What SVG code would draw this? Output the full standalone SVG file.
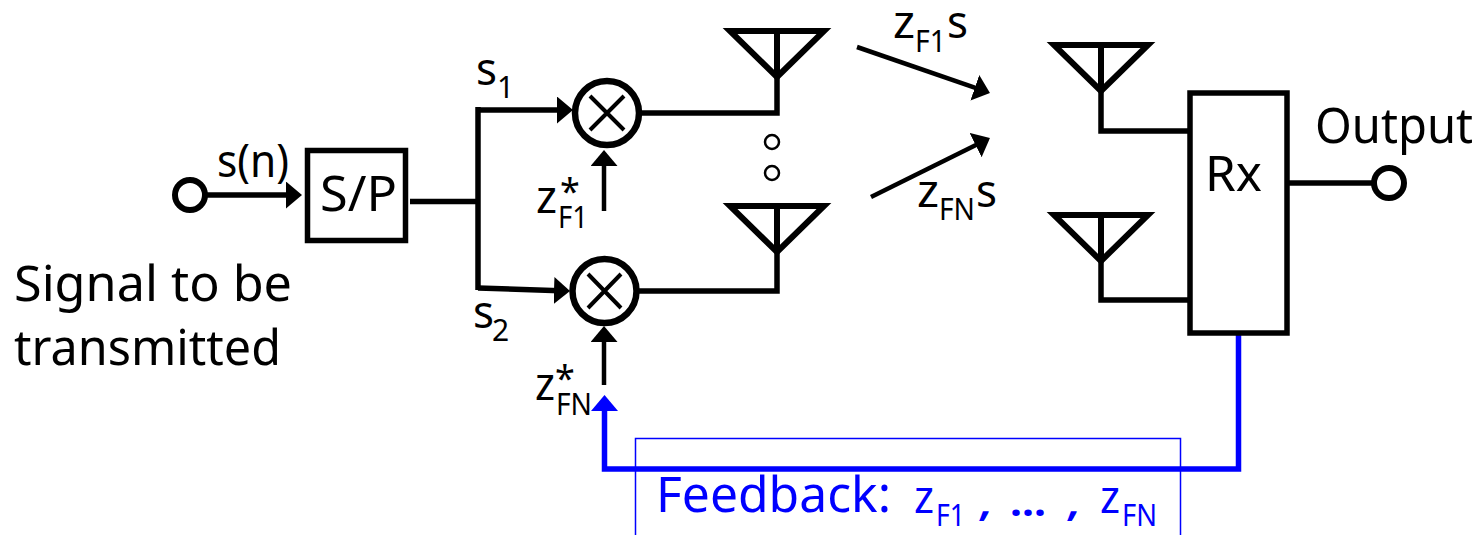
<svg xmlns="http://www.w3.org/2000/svg" width="1480" height="535" viewBox="0 0 1480 535">
<style>
text{font-family:"Noto Sans","Open Sans","DejaVu Sans",sans-serif;fill:#000}
.l{font-size:50px}.s{font-size:46px}.u{font-size:30px}.a{font-size:36px}.b{fill:#00f}
.k{fill:none;stroke:#000;stroke-width:5.500}
.t{fill:none;stroke:#000;stroke-width:6}
.w{fill:#fff;stroke:#000;stroke-width:6.500}
.c{fill:none;stroke:#000;stroke-width:5.500;marker-end:url(#a)}
.n{fill:none;stroke:#000;stroke-width:4.500;marker-end:url(#a)}
.f{fill:none;stroke:#00f;stroke-width:5.500}
</style>
<defs>
<marker id="a" markerUnits="userSpaceOnUse" markerWidth="20" markerHeight="28" refX="6" refY="13.500" orient="auto"><path d="M0 0L16 13.500L0 27Z" fill="#000"/></marker>
<g id="ant"><path class="t" d="M-47 0H47L0 46ZM0 0V46"/></g>
</defs>
<g id="connectors">
<path class="c" d="M204 195H292"/>
<path class="k" d="M410 201.500H478"/>
<path class="c" d="M478 110H563"/>
<path class="k" d="M478 107V290"/>
<path class="c" d="M478 288L560 290.700"/>
<path class="n" d="M604 211V160"/>
<path class="n" d="M604 385V336"/>
<path class="k" d="M640 113H777V77"/>
<path class="k" d="M638 291H777V252"/>
<path class="k" d="M1101 92V131H1188"/>
<path class="k" d="M1101 262V300H1188"/>
<path class="k" d="M1289 183H1375"/>
<path class="n" d="M857 47L980.500 89.700"/>
<path class="n" d="M871 197L981 142.400"/>
<path class="f" d="M1238.500 334V469H604.500V408"/>
<path d="M604.500 395L591 411H618Z" fill="#00f"/>
</g>
<g id="input"><circle cx="190" cy="195" r="15" fill="#fff" stroke="#000" stroke-width="6"/></g>
<g id="sp"><rect x="307.500" y="150.500" width="98" height="90" class="k"/><text class="l" x="320" y="211" textLength="77" lengthAdjust="spacingAndGlyphs">S/P</text></g>
<g id="mix1"><circle cx="607" cy="113" r="32" class="w"/><path class="k" style="stroke-width:4" d="M590 96L624 130M624 96L590 130"/></g>
<g id="mix2"><circle cx="604.500" cy="291" r="32" class="w"/><path class="k" style="stroke-width:4" d="M588 274L621 308M621 274L588 308"/></g>
<g id="tx1"><use href="#ant" x="777" y="31"/></g>
<g id="tx2"><use href="#ant" x="777" y="206"/></g>
<g id="rx1"><use href="#ant" x="1101" y="45"/></g>
<g id="rx2"><use href="#ant" x="1101" y="215"/></g>
<g id="dots"><circle cx="772" cy="142" r="7" fill="#fff" stroke="#000" stroke-width="2.500"/><circle cx="772" cy="173" r="7" fill="#fff" stroke="#000" stroke-width="2.500"/></g>
<g id="rx"><rect x="1190" y="93" width="97" height="240" fill="#fff" stroke="#000" stroke-width="5.500"/><text class="l" x="1205" y="191" textLength="57" lengthAdjust="spacingAndGlyphs">Rx</text></g>
<g id="output"><circle cx="1389" cy="183" r="15" fill="#fff" stroke="#000" stroke-width="6"/><text class="l" x="1315" y="143" textLength="158" lengthAdjust="spacingAndGlyphs">Output</text></g>
<g id="labels">
<text class="s" x="217" y="177" textLength="72" lengthAdjust="spacingAndGlyphs">s(n)</text>
<text class="l" x="14" y="301" textLength="278" lengthAdjust="spacingAndGlyphs">Signal to be</text>
<text class="l" x="14" y="365" textLength="267" lengthAdjust="spacingAndGlyphs">transmitted</text>
<text class="s" x="476" y="85" textLength="21" lengthAdjust="spacingAndGlyphs">s</text><text class="u" x="497" y="98">1</text>
<text class="s" x="473" y="328" textLength="21" lengthAdjust="spacingAndGlyphs">s</text><text class="u" x="492" y="341">2</text>
<text class="s" x="536" y="213" textLength="21" lengthAdjust="spacingAndGlyphs">z</text><text class="u" x="558" y="228" textLength="30" lengthAdjust="spacingAndGlyphs">F1</text><text class="a" x="560" y="204">*</text>
<text class="s" x="535" y="400" textLength="20" lengthAdjust="spacingAndGlyphs">z</text><text class="u" x="556" y="415" textLength="36" lengthAdjust="spacingAndGlyphs">FN</text><text class="a" x="555" y="391">*</text>
<text class="s" x="893" y="38" textLength="22" lengthAdjust="spacingAndGlyphs">z</text><text class="u" x="915" y="52" textLength="31" lengthAdjust="spacingAndGlyphs">F1</text><text class="s" x="947" y="38" textLength="21" lengthAdjust="spacingAndGlyphs">s</text>
<text class="s" x="917" y="207" textLength="22" lengthAdjust="spacingAndGlyphs">z</text><text class="u" x="939" y="220" textLength="36" lengthAdjust="spacingAndGlyphs">FN</text><text class="s" x="976" y="207" textLength="21" lengthAdjust="spacingAndGlyphs">s</text>
</g>
<g id="feedback">
<rect x="635.500" y="438.500" width="545" height="110" fill="none" stroke="#00f" stroke-width="1.500"/>
<text class="b" style="font-size:50px" x="656" y="512" textLength="235" lengthAdjust="spacingAndGlyphs">Feedback:</text>
<text class="b s" x="914" y="513" textLength="20" lengthAdjust="spacingAndGlyphs">z</text><text class="b u" x="936" y="526" textLength="29" lengthAdjust="spacingAndGlyphs">F1</text>
<text class="b" style="font-size:40px;font-weight:bold;font-style:italic" x="981" y="516">,</text><text class="b" style="font-size:40px;font-weight:bold" x="1010" y="516" textLength="36" lengthAdjust="spacingAndGlyphs">...</text><text class="b" style="font-size:40px;font-weight:bold;font-style:italic" x="1069" y="516">,</text>
<text class="b s" x="1100" y="513" textLength="20" lengthAdjust="spacingAndGlyphs">z</text><text class="b u" x="1122" y="526" textLength="35" lengthAdjust="spacingAndGlyphs">FN</text>
</g>
</svg>
